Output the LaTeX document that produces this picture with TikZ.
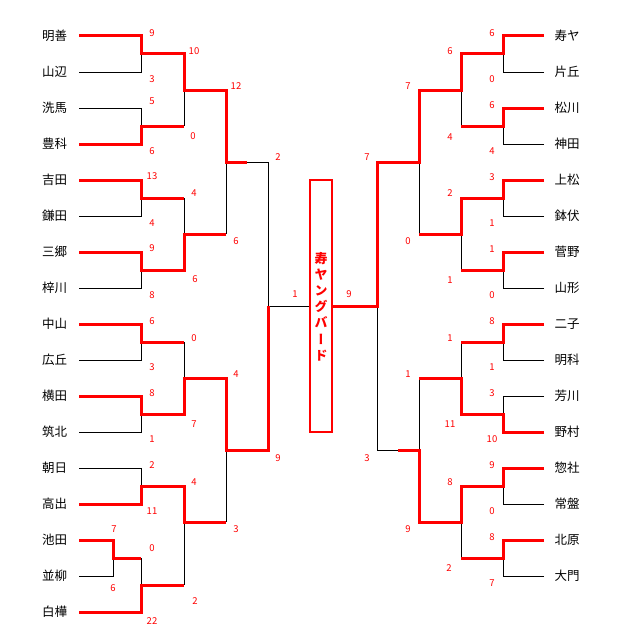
\documentclass[tikz,border=0pt]{standalone}
\usepackage{fontspec}
\newfontfamily\cjk{Noto Sans CJK JP}
\newfontfamily\cjkvert[RawFeature=+vert]{Noto Sans CJK JP}

\tikzset{
	sieg/.style={draw=red, line width=3pt, line join=miter},
	verloren/.style={draw=black, line width=1pt},
	mannschaft/.style={font=\cjk\fontsize{12.5}{12.5}\selectfont, inner sep=0pt},
	punkte/.style={text=red, font=\cjk\fontsize{9.5}{9.5}\selectfont, inner sep=0pt},
	titel/.style={text=red, align=center, inner sep=0pt,
		font=\cjkvert\bfseries\fontsize{13}{16.2}\selectfont}
}

\begin{document}
\begin{tikzpicture}[x=1pt, y=-1pt]
	\useasboundingbox (0,0) rectangle (625,634);

	% Mannschaften links
	\foreach \t [count=\i] in {明善,山辺,洗馬,豊科,吉田,鎌田,三郷,梓川,中山,広丘,横田,筑北,朝日,高出,池田,並柳,白樺}
		\node[mannschaft] (l\i) at (54.5, 36*\i) {\t};
	% Mannschaften rechts
	\foreach \t [count=\i] in {寿ヤ,片丘,松川,神田,上松,鉢伏,菅野,山形,二子,明科,芳川,野村,惣社,常盤,北原,大門}
		\node[mannschaft] (r\i) at (567, 36*\i) {\t};

	% Verlierer links
	\draw[verloren] (79,72) -- (141,72) -- (141,54);
	\draw[verloren] (79,108) -- (141,108) -- (141,126);
	\draw[verloren] (184,90) -- (184,126);
	\draw[verloren] (79,216) -- (141,216) -- (141,198);
	\draw[verloren] (79,288) -- (141,288) -- (141,270);
	\draw[verloren] (184,198) -- (184,234);
	\draw[verloren] (226,162) -- (226,234);
	\draw[verloren] (247,162) -- (268,162) -- (268,306) -- (310,306);
	\draw[verloren] (79,360) -- (141,360) -- (141,342) -- (184,342) -- (184,378);
	\draw[verloren] (79,432) -- (141,432) -- (141,414);
	\draw[verloren] (79,468) -- (141,468) -- (141,486);
	\draw[verloren] (79,576) -- (113,576) -- (113,558);
	\draw[verloren] (141,558) -- (141,585);
	\draw[verloren] (184,522) -- (184,585);
	\draw[verloren] (226,450) -- (226,522);

	% Verlierer rechts
	\draw[verloren] (544,72) -- (503,72) -- (503,54);
	\draw[verloren] (544,144) -- (503,144) -- (503,126);
	\draw[verloren] (461,90) -- (461,126);
	\draw[verloren] (544,216) -- (503,216) -- (503,198);
	\draw[verloren] (544,288) -- (503,288) -- (503,270);
	\draw[verloren] (461,234) -- (461,270);
	\draw[verloren] (419,162) -- (419,234);
	\draw[verloren] (544,360) -- (503,360) -- (503,342);
	\draw[verloren] (461,342) -- (461,378);
	\draw[verloren] (544,396) -- (503,396) -- (503,414);
	\draw[verloren] (544,504) -- (503,504) -- (503,486);
	\draw[verloren] (544,576) -- (503,576) -- (503,558);
	\draw[verloren] (461,522) -- (461,558);
	\draw[verloren] (419,378) -- (419,450);
	\draw[verloren] (398,450) -- (377,450) -- (377,306);

	% Sieger links
	\draw[sieg] (79,36) -- (141,36) -- (141,54) -- (184,54) -- (184,90) -- (226,90) -- (226,162) -- (247,162);
	\draw[sieg] (79,144) -- (141,144) -- (141,126) -- (184,126);
	\draw[sieg] (79,180) -- (141,180) -- (141,198) -- (184,198);
	\draw[sieg] (79,252) -- (141,252) -- (141,270) -- (184,270) -- (184,234) -- (226,234);
	\draw[sieg] (79,324) -- (141,324) -- (141,342) -- (184,342);
	\draw[sieg] (79,396) -- (141,396) -- (141,414) -- (184,414) -- (184,378) -- (226,378) -- (226,450) -- (268,450) -- (268,306);
	\draw[sieg] (79,504) -- (141,504) -- (141,486) -- (184,486) -- (184,522) -- (226,522);
	\draw[sieg] (79,540) -- (113,540) -- (113,558) -- (141,558);
	\draw[sieg] (79,612) -- (141,612) -- (141,585) -- (184,585);

	% Sieger rechts
	\draw[sieg] (544,36) -- (503,36) -- (503,54) -- (461,54) -- (461,90) -- (419,90) -- (419,162) -- (377,162) -- (377,306) -- (332,306);
	\draw[sieg] (544,108) -- (503,108) -- (503,126) -- (461,126);
	\draw[sieg] (544,180) -- (503,180) -- (503,198) -- (461,198) -- (461,234) -- (419,234);
	\draw[sieg] (544,252) -- (503,252) -- (503,270) -- (461,270);
	\draw[sieg] (544,324) -- (503,324) -- (503,342) -- (461,342);
	\draw[sieg] (544,432) -- (503,432) -- (503,414) -- (461,414) -- (461,378) -- (419,378);
	\draw[sieg] (544,468) -- (503,468) -- (503,486) -- (461,486) -- (461,522) -- (419,522) -- (419,450) -- (398,450);
	\draw[sieg] (544,540) -- (503,540) -- (503,558) -- (461,558);

	% Meister
	\draw[red, line width=2.5pt] (310,180) rectangle (332,432);
	\node[titel] (meister) at (321,306.5) {寿\\ヤ\\ン\\グ\\バ\\ー\\ド};

	% Ergebnisse links
	\foreach \x/\y/\s [count=\i] in {152/33/9, 152/79/3, 152/101/5, 152/151/6, 152/176/13, 152/223/4, 152/248/9, 152/295/8,
			194/51/10, 193/136/0, 194/193/4, 195/279/6, 236/86/12, 236/241/6, 278/157/2,
			152/321/6, 152/367/3, 152/393/8, 152/439/1, 152/465/2, 152/511/11, 114/529/7, 113/588/6, 152/548/0, 152/621/22,
			194/338/0, 194/424/7, 194/482/4, 195/601/2, 236/374/4, 236/529/3, 278/458/9, 295/294/1}
		\node[punkte] (pl\i) at (\x,\y) {\s};
	% Ergebnisse rechts
	\foreach \x/\y/\s [count=\i] in {492/33/6, 492/79/0, 492/105/6, 492/151/4, 492/177/3, 492/223/1, 492/249/1, 492/295/0,
			450/51/6, 450/137/4, 450/193/2, 450/280/1, 408/86/7, 408/241/0, 367/157/7,
			492/321/8, 492/367/1, 492/393/3, 492/439/10, 492/465/9, 492/511/0, 492/537/8, 492/583/7,
			450/338/1, 450/424/11, 450/482/8, 449/568/2, 408/374/1, 408/529/9, 367/458/3, 349/294/9}
		\node[punkte] (pr\i) at (\x,\y) {\s};
\end{tikzpicture}
\end{document}
